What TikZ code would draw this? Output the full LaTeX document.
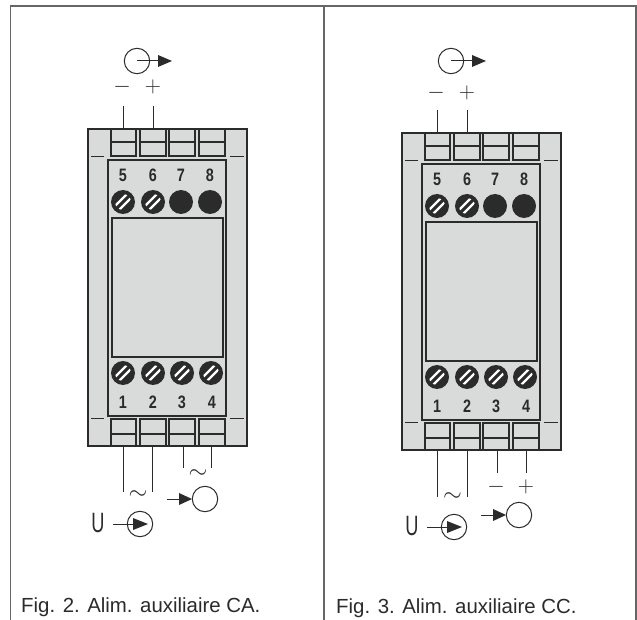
\documentclass[tikz,border=0pt]{standalone}
\usepackage{fontspec}
\usetikzlibrary{calc}
\setmainfont{Liberation Sans}
\definecolor{devgray}{HTML}{D9DADA}
\definecolor{ink}{HTML}{2B2B2B}
\definecolor{framec}{HTML}{666666}
\tikzset{x=1pt,y=-1pt,
 frameline/.style={framec,line width=1.3pt},
 outer line/.style={ink,line width=2pt},
 heavy/.style={ink,line width=1.6pt},
 thin line/.style={ink,line width=1pt},
 tiny line/.style={ink,line width=0.8pt},
 num/.style={font=\bfseries\fontsize{18}{18}\selectfont,text=ink,inner sep=0pt,xscale=0.8},
 sign/.style={font=\fontsize{17.28}{17.28}\selectfont,text=ink,inner sep=0pt,scale=1.3},
 wave/.style={font=\fontsize{17.28}{17.28}\selectfont,text=ink,inner sep=0pt,scale=1.4},
 letterU/.style={font=\fontsize{28}{28}\selectfont,text=ink,inner sep=0pt,xscale=0.65},
 caption/.style={font=\fontsize{20.4}{21}\selectfont,text=ink,inner sep=0pt,anchor=base west},
 tri/.style={fill=ink,draw=none}}
\newcommand{\screwopen}[2]{%
 \fill[ink] (#1,#2) circle (12);
 \begin{scope}
  \clip (#1,#2) circle (8);
  \foreach \d in {-2,2}{\draw[white,line width=2.4pt] ($(#1,#2)+(-12+\d,12+\d)$) -- ($(#1,#2)+(12+\d,-12+\d)$);}
 \end{scope}}
\newcommand{\screwsolid}[2]{\fill[ink] (#1,#2) circle (12);}
\newcommand{\device}[1]{%
\begin{scope}[shift={(#1)}]
 \fill[devgray] (88,129) rectangle (247,446);
 \draw[outer line] (88,129) rectangle (247,446);
 \draw[heavy] (108,160) rectangle (226,416);
 \draw[heavy] (112,218) rectangle (223,357);
 \foreach \a/\b in {111/136,140/166,169/195,199/225}{
  \draw[heavy] (\a,129) rectangle (\b,156);
  \draw[heavy] (\a,142) -- (\b,142);
  \draw[heavy] (\a,419) rectangle (\b,446);
  \draw[heavy] (\a,434) -- (\b,434);}
 \foreach \a/\b in {91/104,230/244}{
  \draw[tiny line] (\a,156) -- (\b,156);
  \draw[tiny line] (\a,418) -- (\b,418);}
 \foreach \x/\n in {123/5,153/6,181/7,210/8}{\node[num] (t\n) at (\x,175) {\n};}
 \foreach \x/\n in {123/1,153/2,182/3,212/4}{\node[num] (t\n) at (\x,402) {\n};}
 \screwopen{123}{202}\screwopen{153}{202}\screwsolid{181}{202}\screwsolid{210}{202}
 \screwopen{123}{373}\screwopen{153}{373}\screwopen{182}{373}\screwopen{211}{373}
\end{scope}}
\begin{document}
\begin{tikzpicture}
\useasboundingbox (0,0) rectangle (637,620);
\fill[white] (0,0) rectangle (637,620);
% frame
\draw[frameline] (10.5,620) -- (10.5,6) -- (636,6) -- (636,620) (324,6) -- (324,620);
\device{0,0}
\device{314,4}
% Fig 2 output
\draw[thin line] (137,61) circle (12.7);
\draw[thin line] (137,61) -- (162,61);
\fill[tri] (158,55) -- (172,61) -- (158,67) -- cycle;
\node[sign] (m2) at (122,87) {$-$};
\node[sign] (p2) at (153,87) {$+$};
\draw[thin line] (123,106) -- (123,129) (153,106) -- (153,129);
% Fig 2 lower
\foreach \x/\y in {123/492,152/492,183/468,211/468}{\draw[thin line] (\x,446) -- (\x,\y);}
\node[wave] (w1) at (138,495) {$\sim$};
\node[wave] (w2) at (198,474.5) {$\sim$};
\draw[thin line] (205,499) circle (12.7);
\draw[thin line] (167,499) -- (185,499);
\fill[tri] (179,493) -- (192,499) -- (179,505) -- cycle;
\draw[thin line] (140,524) circle (12.7);
\draw[thin line] (113,524) -- (135,524);
\fill[tri] (133,518) -- (148,524) -- (133,530) -- cycle;
\node[letterU] (u2) at (98,523) {U};
% Fig 3 output
\draw[thin line] (451,61) circle (12.7);
\draw[thin line] (451,61) -- (476,61);
\fill[tri] (472,55) -- (486,61) -- (472,67) -- cycle;
\node[sign] (m3) at (436,93) {$-$};
\node[sign] (p3) at (467,93) {$+$};
\draw[thin line] (437,110) -- (437,133) (467,110) -- (467,133);
% Fig 3 lower
\foreach \x/\y in {437/497,467/497,497/473,526/473}{\draw[thin line] (\x,450) -- (\x,\y);}
\node[wave] (w3) at (452.5,497) {$\sim$};
\node[sign] (m4) at (496,487) {$-$};
\node[sign] (p4) at (526,487) {$+$};
\draw[thin line] (519,515) circle (12.7);
\draw[thin line] (481,515) -- (499,515);
\fill[tri] (493,509) -- (506,515) -- (493,521) -- cycle;
\draw[thin line] (454,527) circle (12.7);
\draw[thin line] (427,527) -- (449,527);
\fill[tri] (447,521) -- (462,527) -- (447,533) -- cycle;
\node[letterU] (u3) at (412,526) {U};
\node[caption] (c2) at (21,612) {Fig. 2. Alim. auxiliaire CA.};
\node[caption] (c3) at (336,613) {Fig. 3. Alim. auxiliaire CC.};
\end{tikzpicture}
\end{document}
